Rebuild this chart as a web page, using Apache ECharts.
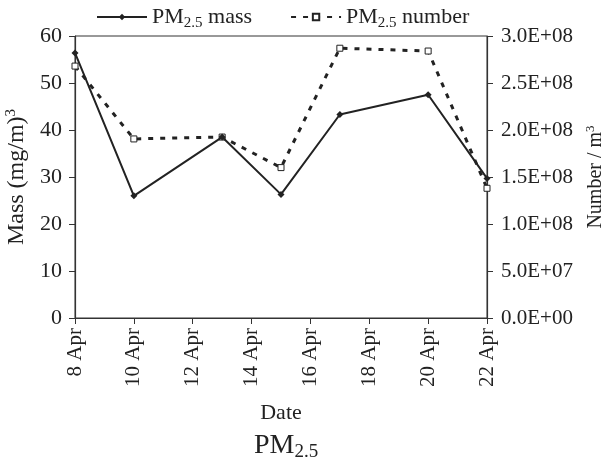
<!DOCTYPE html>
<html><head><meta charset="utf-8">
<script src="https://cdn.jsdelivr.net/npm/echarts@6/dist/echarts.min.js"></script>
<style>html,body{margin:0;padding:0;background:#fff}#c{width:610px;height:465px}</style>
</head><body><div id="c"></div>
<script>
const days = [8, 10, 13, 15, 17, 20, 22];
const massValues = [56.4, 26.0, 38.5, 26.3, 43.3, 47.5, 29.7];
const numberValues = [2.68e8, 1.905e8, 1.925e8, 1.60e8, 2.87e8, 2.84e8, 1.38e8];
const xTicks = [8, 10, 12, 14, 16, 18, 20, 22];
const massLabel = 'PM{sub|2.5} mass';
const numberLabel = 'PM{sub|2.5} number';

const F = 'Liberation Serif';
const C = '#222';
const chart = echarts.init(document.getElementById('c'));
chart.setOption({
  animation: false,
  textStyle: { fontFamily: F, color: C },
  title: {
    text: 'PM{sub|2.5}', left: 249, top: 424,
    textStyle: { fontFamily: F, fontSize: 28, fontWeight: 'normal', color: C,
      rich: { sub: { fontFamily: F, fontSize: 19, color: C, verticalAlign: 'bottom', padding: [14, 0, 0, 0] } } }
  },
  legend: {
    top: 1, left: 91, itemGap: 38, itemWidth: 50, itemHeight: 8,
    data: [massLabel, numberLabel],
    textStyle: { fontFamily: F, fontSize: 22, color: C,
      rich: { sub: { fontFamily: F, fontSize: 15, color: C, padding: [12, 0, 0, 0] } } }
  },
  grid: { left: 75, right: 123, top: 36, bottom: 147, show: true, borderColor: '#333', borderWidth: 1,
    containLabel: false, outerBoundsMode: 'none' },
  xAxis: {
    type: 'value', min: 8, max: 22, interval: 2,
    name: 'Date', nameLocation: 'middle', nameGap: 84,
    nameTextStyle: { fontFamily: F, fontSize: 22, color: C },
    axisLine: { lineStyle: { color: '#333', width: 1.2 } },
    axisTick: { show: true, length: 6, lineStyle: { color: '#333' } },
    splitLine: { show: false },
    axisLabel: { rotate: 90, fontFamily: F, fontSize: 21, color: C, margin: 10,
      formatter: v => xTicks.includes(v) ? v + ' Apr' : '' }
  },
  yAxis: [{
    type: 'value', min: 0, max: 60, interval: 10, position: 'left',
    name: 'Mass (mg/m){sup|3}', nameLocation: 'middle', nameGap: 42, nameRotate: 90,
    nameTextStyle: { fontFamily: F, fontSize: 24, color: C,
      rich: { sup: { fontFamily: F, fontSize: 15, color: C, padding: [0, 0, 12, 0] } } },
    axisLine: { show: true, lineStyle: { color: '#333', width: 1.2 } },
    axisTick: { show: true, length: 6, lineStyle: { color: '#333' } },
    splitLine: { show: false },
    axisLabel: { fontFamily: F, fontSize: 22, color: C, margin: 13 }
  }, {
    type: 'value', min: 0, max: 3e8, interval: 5e7, position: 'right',
    name: 'Number / m{sup|3}', nameLocation: 'middle', nameGap: 89, nameRotate: 90,
    nameTextStyle: { fontFamily: F, fontSize: 20, color: C,
      rich: { sup: { fontFamily: F, fontSize: 13, color: C, padding: [0, 0, 10, 0] } } },
    axisLine: { show: true, lineStyle: { color: '#333', width: 1.2 } },
    axisTick: { show: true, length: 6, lineStyle: { color: '#333' } },
    splitLine: { show: false },
    axisLabel: { fontFamily: F, fontSize: 21, color: C, margin: 14,
      formatter: v => { const e = v === 0 ? 0 : Math.floor(Math.log10(v) + 1e-9);
        const m = v === 0 ? 0 : v / Math.pow(10, e);
        return m.toFixed(1) + 'E+' + String(e).padStart(2, '0'); } }
  }],
  series: [{
    name: massLabel, type: 'line', yAxisIndex: 0,
    data: days.map((d, i) => [d, massValues[i]]),
    symbol: 'diamond', symbolSize: 7,
    itemStyle: { color: '#222' },
    lineStyle: { color: '#222', width: 2 }, z: 3
  }, {
    name: numberLabel, type: 'line', yAxisIndex: 1,
    data: days.map((d, i) => [d, numberValues[i]]),
    symbol: 'rect', symbolSize: 6,
    itemStyle: { color: '#fff', borderColor: '#222', borderWidth: 1 },
    lineStyle: { color: '#222', width: 3, type: [5, 7] }, z: 2
  }]
});
</script></body></html>
